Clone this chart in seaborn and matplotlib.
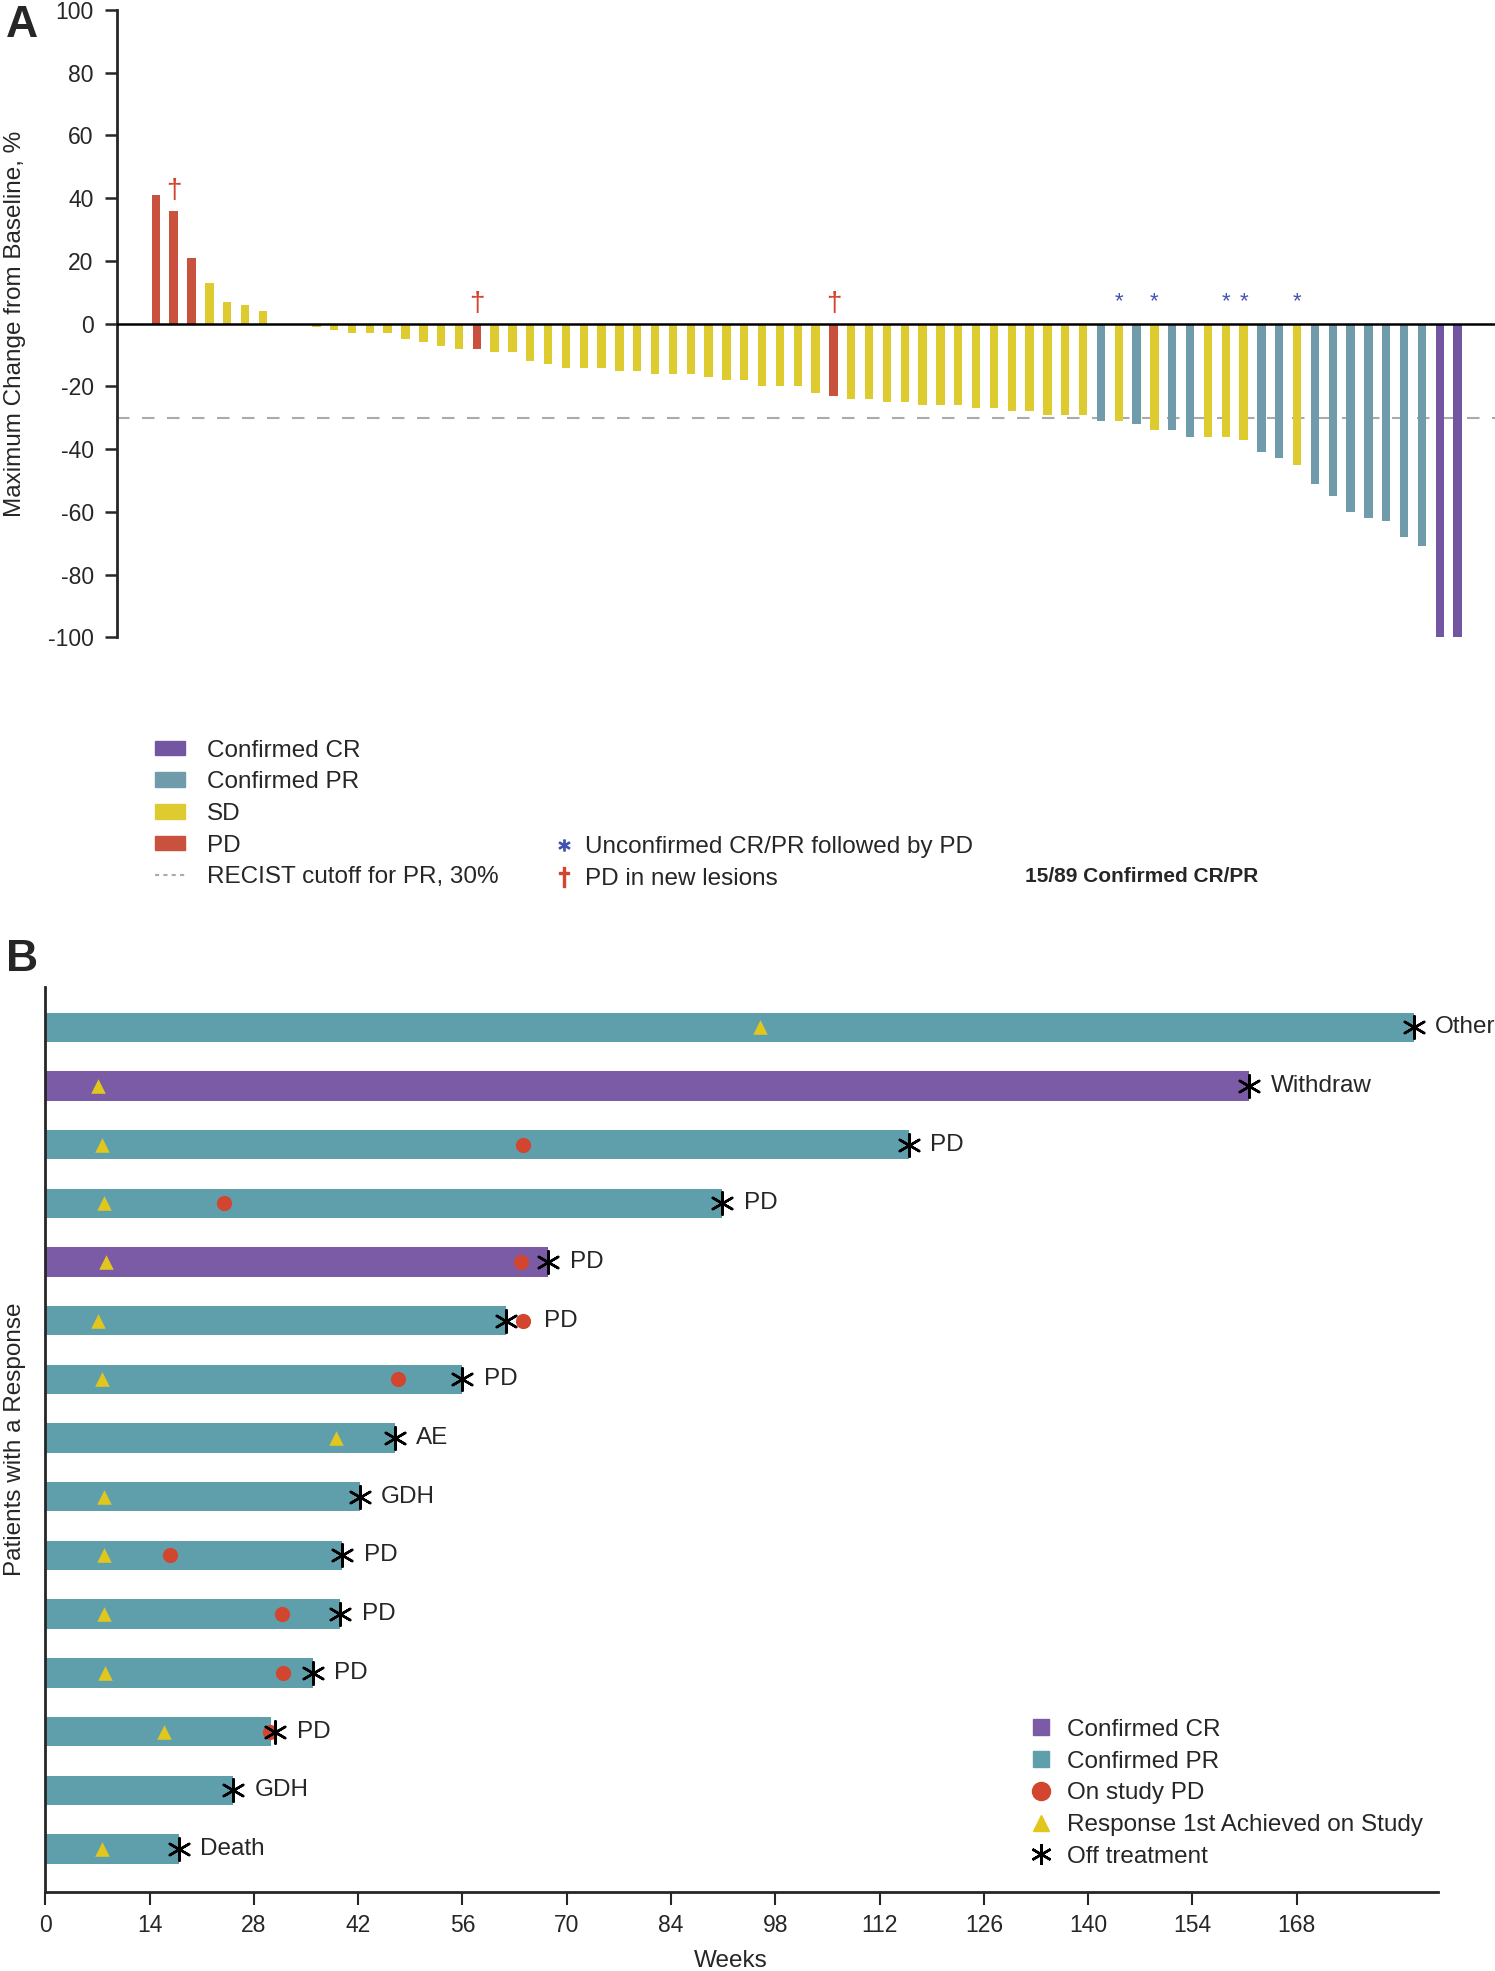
import numpy as np
import pandas as pd
import matplotlib
matplotlib.use('Agg')
import matplotlib.pyplot as plt
from matplotlib.lines import Line2D
from matplotlib.patches import Patch
import seaborn as sns

# Painel A - variação máxima do tamanho tumoral (waterfall)
pct_change = [41, 36, 21, 13, 7, 6, 4, 0, 0,
              -1, -2, -3, -3, -3, -5, -6, -7, -8, -8,
              -9, -9, -12, -13, -14, -14, -14, -15, -15, -16, -16, -16, -17, -18, -18, -20, -20, -20, -22,
              -23, -24, -24, -25, -25, -26, -26, -26, -27, -27, -28, -28, -29, -29, -29,
              -31, -31, -32, -34, -34, -36, -36, -36, -37, -41, -43, -45,
              -51, -55, -60, -62, -63, -68, -71, -100, -100]
best_response = (['PD'] * 3 + ['SD'] * 15 + ['PD'] + ['SD'] * 19 + ['PD'] + ['SD'] * 14 +
                 ['PR', 'SD', 'PR', 'SD', 'PR', 'PR', 'SD', 'SD', 'SD', 'PR', 'PR', 'SD'] +
                 ['PR'] * 7 + ['CR'] * 2)
new_lesion_idx = [1, 18, 38]
unconfirmed_idx = [54, 56, 60, 61, 64]

# Painel B - swimmer plot dos respondedores
weeks_on_study = [183.7, 161.6, 115.9, 90.9, 67.5, 61.9, 56.0, 46.9, 42.2, 39.9, 39.6, 35.9, 30.3, 25.2, 17.9]
swim_response = ['PR', 'CR', 'PR', 'PR', 'CR', 'PR', 'PR', 'PR', 'PR', 'PR', 'PR', 'PR', 'PR', 'PR', 'PR']
off_treatment = [183.7, 161.6, 115.9, 90.9, 67.5, 61.8, 56.0, 46.9, 42.2, 39.9, 39.6, 35.9, 30.9, 25.2, 17.9]
first_response = [95.9, 7.1, 7.6, 7.9, 8.2, 7.1, 7.6, 39.0, 7.9, 7.9, 7.9, 8.0, 15.9, np.nan, 7.6]
pd_on_study = [np.nan, np.nan, 64.2, 24.0, 63.8, 64.1, 47.3, np.nan, np.nan, 16.8, 31.8, 31.9, 30.1, np.nan, np.nan]
off_reason = ['Other', 'Withdraw', 'PD', 'PD', 'PD', 'PD', 'PD', 'AE', 'GDH', 'PD', 'PD', 'PD', 'PD', 'GDH', 'Death']
week_ticks = list(range(0, 169, 14))

cores_a = {'CR': '#7356A1', 'PR': '#6F9BAA', 'SD': '#DDCB2F', 'PD': '#C9523F'}
cores_b = {'CR': '#7B5AA6', 'PR': '#5F9FAB'}
vermelho = '#D2452F'
amarelo = '#E1C71D'
azul_star = '#4254B0'

sns.set_style('white')
plt.rcParams['font.family'] = ['Liberation Sans', 'DejaVu Sans']
plt.rcParams['font.size'] = 17.5
plt.rcParams['axes.unicode_minus'] = False

fig = plt.figure(figsize=(14.95, 19.71), dpi=100)
axA = fig.add_axes([0.078, 0.6767, 0.922, 0.3182])
axB = fig.add_axes([0.0303, 0.0402, 0.9317, 0.4592])

# ---------- Painel A ----------
dfa = pd.DataFrame({'pt': range(len(pct_change)), 'chg': pct_change, 'resp': best_response})
sns.barplot(data=dfa, x='pt', y='chg', hue='resp', palette=cores_a, dodge=False,
            width=0.47, saturation=1, linewidth=0, legend=False, ax=axA)
axA.axhline(0, color='black', lw=1.8, zorder=3)
axA.axhline(-30, color='#AAAAAA', lw=1.5, ls=(0, (6, 6)), zorder=0)

for i in new_lesion_idx:
    axA.text(i, max(pct_change[i], 0) + 2, '\u2020', color=vermelho, ha='center', va='bottom', fontsize=20)
for i in unconfirmed_idx:
    axA.text(i, 3.5, '*', color=azul_star, ha='center', va='bottom', fontsize=16)

axA.set_ylim(-100, 100)
axA.set_yticks(range(-100, 101, 20))
axA.set_xlim(-2.2, 75.1)
axA.set_xticks([])
axA.set_xlabel('')
axA.set_ylabel('Maximum Change from Baseline, %', fontsize=17.5)
axA.yaxis.set_label_coords(-0.066, 0.5)
for s in ['top', 'right', 'bottom']:
    axA.spines[s].set_visible(False)
axA.spines['left'].set_linewidth(2)
axA.tick_params(axis='y', direction='out', length=8.5, width=1.8, labelsize=16.5, pad=8, left=True)

leg_a = [Patch(color=cores_a['CR'], label='Confirmed CR'),
         Patch(color=cores_a['PR'], label='Confirmed PR'),
         Patch(color=cores_a['SD'], label='SD'),
         Patch(color=cores_a['PD'], label='PD'),
         Line2D([0], [0], color='#AAAAAA', lw=1.5, ls=(0, (2, 2)), label='RECIST cutoff for PR, 30%')]
fig.legend(handles=leg_a, loc='upper left', bbox_to_anchor=(0.1034, 0.6248), frameon=False,
           fontsize=17.5, handlelength=1.25, handleheight=0.55, handletextpad=0.9,
           labelspacing=0.4, borderpad=0, borderaxespad=0)

leg_a2 = [Line2D([0], [0], ls='none', marker=r'$*$', color=azul_star, ms=8,
                 label='Unconfirmed CR/PR followed by PD'),
          Line2D([0], [0], ls='none', marker=r'$\dagger$', color=vermelho, ms=14,
                 label='PD in new lesions')]
fig.legend(handles=leg_a2, loc='upper left', bbox_to_anchor=(0.3726, 0.5757), frameon=False,
           fontsize=17.5, handlelength=0.6, handletextpad=0.55,
           labelspacing=0.4, borderpad=0, borderaxespad=0)

fig.text(0.6855, 0.5555, '15/89 Confirmed CR/PR', fontsize=15, weight='bold', va='center')
fig.text(0.004, 0.987, 'A', fontsize=32, weight='bold', va='center')
fig.text(0.004, 0.5134, 'B', fontsize=32, weight='bold', va='center')

# ---------- Painel B ----------
dfb = pd.DataFrame({'row': range(len(weeks_on_study)), 'weeks': weeks_on_study,
                    'resp': swim_response, 'off': off_treatment,
                    'first': first_response, 'pd': pd_on_study})
sns.barplot(data=dfb, x='weeks', y='row', hue='resp', palette=cores_b, orient='h', dodge=False,
            width=0.5, saturation=1, linewidth=0, legend=False, ax=axB)

tri = dfb.dropna(subset=['first'])
axB.scatter(tri['first'], tri['row'], marker='^', s=110, color=amarelo, linewidths=0, zorder=4)
dots = dfb.dropna(subset=['pd'])
axB.scatter(dots['pd'], dots['row'], marker='o', s=120, color=vermelho, linewidths=0, zorder=4)
axB.scatter(dfb['off'], dfb['row'], marker=(6, 2, 0), s=260, color='black', linewidths=1.8, zorder=5)

for r, (x, p, lab) in enumerate(zip(off_treatment, pd_on_study, off_reason)):
    fim = x if np.isnan(p) or p < x else p
    axB.text(fim + 2.9, r, lab, va='center', ha='left', fontsize=17.5)

axB.set_xlim(0, 187)
axB.set_ylim(14.73, -0.69)
axB.set_xticks(week_ticks)
axB.set_yticks([])
axB.set_xlabel('Weeks', fontsize=17.5)
axB.xaxis.set_label_coords(0.492, -0.064)
axB.set_ylabel('Patients with a Response', fontsize=17.5)
axB.yaxis.set_label_coords(-0.014, 0.5)
for s in ['top', 'right']:
    axB.spines[s].set_visible(False)
axB.spines['left'].set_linewidth(2)
axB.spines['bottom'].set_linewidth(2)
axB.tick_params(axis='x', direction='out', length=9, width=1.5, labelsize=16.5, pad=7, bottom=True)

leg_b = [Line2D([0], [0], ls='none', marker='s', color=cores_b['CR'], ms=12, label='Confirmed CR'),
         Line2D([0], [0], ls='none', marker='s', color=cores_b['PR'], ms=12, label='Confirmed PR'),
         Line2D([0], [0], ls='none', marker='o', color=vermelho, ms=13, label='On study PD'),
         Line2D([0], [0], ls='none', marker='^', color=amarelo, ms=12, label='Response 1st Achieved on Study'),
         Line2D([0], [0], ls='none', marker=(6, 2, 0), color='black', mew=1.8, ms=15, label='Off treatment')]
fig.legend(handles=leg_b, loc='upper left', bbox_to_anchor=(0.688, 0.1279), frameon=False,
           fontsize=17.5, handlelength=1.0, handletextpad=0.6,
           labelspacing=0.4, borderpad=0, borderaxespad=0)

fig.savefig('out.png', dpi=100)
